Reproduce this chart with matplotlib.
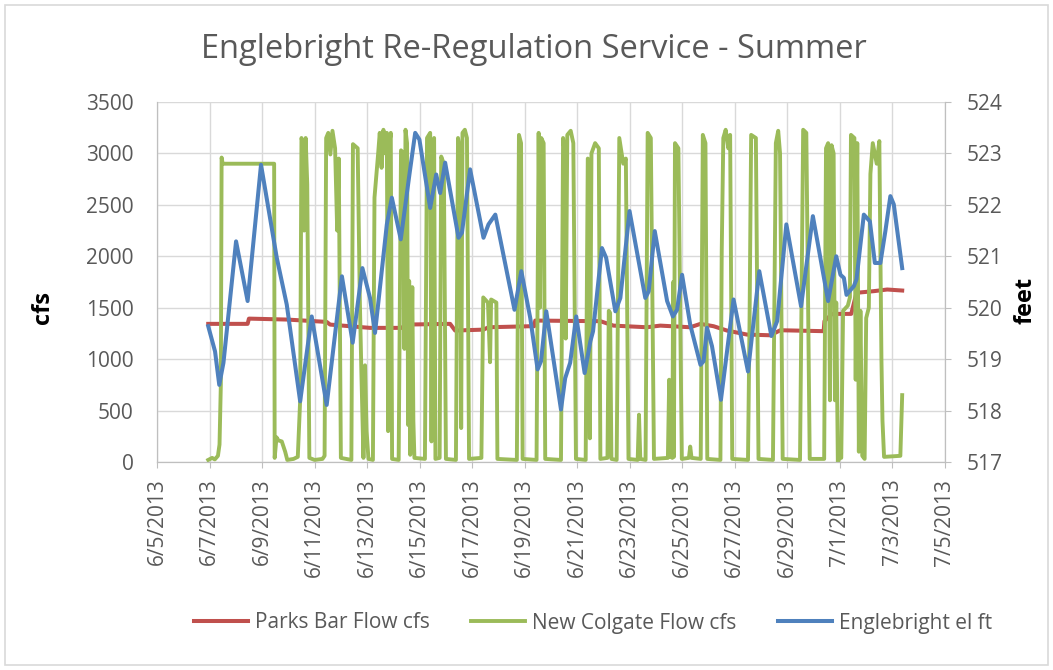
import matplotlib
matplotlib.use("Agg")
import matplotlib.pyplot as plt
import pandas as pd
from matplotlib.patches import Rectangle

plt.rcParams["font.family"] = ["Open Sans", "DejaVu Sans"]

# days after 6/5/2013 00:00
start = pd.Timestamp("2013-06-05")

parks_days = [1.95, 3.45, 3.50, 4.94, 6.46, 6.59, 8.11, 9.32, 9.45, 11.16, 11.35,
              12.43, 12.62, 14.21, 14.36, 14.40, 16.88, 17.38, 18.65, 19.16, 20.30,
              20.69, 21.19, 21.70, 22.46, 23.35, 23.73, 25.38, 25.41, 25.70, 26.43,
              26.63, 27.29, 27.80, 28.37]
parks_cfs = [1343, 1343, 1394, 1385, 1362, 1336, 1304, 1304, 1336, 1343, 1278,
             1287, 1310, 1320, 1320, 1375, 1369, 1326, 1310, 1326, 1310,
             1343, 1320, 1278, 1239, 1232, 1281, 1272, 1369, 1440, 1440,
             1645, 1661, 1677, 1667]

colgate_days = [1.95, 2.10, 2.20, 2.32, 2.38, 2.43, 2.46, 2.50, 4.46, 4.48, 4.55, 4.62,
                4.75, 4.88, 4.96, 5.20, 5.36,
                5.45, 5.50, 5.55, 5.60, 5.66, 5.72, 5.80, 6.00, 6.30,
                6.38, 6.44, 6.52, 6.60, 6.68, 6.78, 6.86, 6.92, 7.00, 7.20, 7.40,
                7.46, 7.64, 7.72, 7.78, 7.86, 7.92, 7.98, 8.05, 8.22,
                8.28, 8.42, 8.48, 8.55, 8.62, 8.70, 8.75, 8.80, 8.85, 8.90, 8.95, 9.20,
                9.29, 9.38, 9.42, 9.46, 9.52, 9.56, 9.60, 9.64, 9.72, 9.76, 9.80, 10.20,
                10.28, 10.40, 10.45, 10.50, 10.55, 10.60, 10.76,
                10.82, 10.92, 11.00, 11.38,
                11.46, 11.54, 11.58, 11.63, 11.72, 11.80, 11.88, 12.35,
                12.42, 12.60, 12.68, 12.72, 12.92, 12.96, 13.70,
                13.78, 13.86, 13.92, 14.45,
                14.53, 14.58, 14.63, 14.72, 14.78, 15.38,
                15.46, 15.52, 15.56, 15.62, 15.75, 15.85, 15.95, 16.32,
                16.40, 16.48, 16.54, 16.68, 16.82, 16.88, 17.15, 17.20, 17.25, 17.30, 17.50,
                17.60, 17.75, 17.85, 17.95, 18.30, 18.35, 18.40, 18.60,
                18.68, 18.80, 18.92, 19.45, 19.50, 19.55, 19.62, 19.65, 19.68,
                19.72, 19.85, 19.98, 20.25, 20.30, 20.35, 20.70,
                20.78, 20.88, 20.95, 21.45,
                21.50, 21.56, 21.65, 21.75, 21.82, 21.90, 22.50,
                22.56, 22.62, 22.80, 22.90, 23.45,
                23.56, 23.65, 23.72, 23.82, 24.48,
                24.60, 24.72, 24.85, 25.40,
                25.47, 25.55, 25.62, 25.68, 25.76, 25.81, 25.86, 25.92, 26.00, 26.05,
                26.12, 26.30, 26.38, 26.42, 26.55, 26.60, 26.66, 26.72, 26.78, 26.85,
                26.94, 27.00, 27.10, 27.16, 27.25, 27.40, 27.50, 27.58, 27.62, 27.68,
                28.30, 28.37]
colgate_cfs = [20, 40, 25, 60, 170, 750, 2960, 2900, 2900, 40, 240, 210,
               200, 100, 20, 30, 50,
               600, 3150, 3100, 2250, 3150, 2700, 40, 20, 30,
               60, 3150, 3200, 2990, 3220, 3050, 2250, 2950, 40, 30, 20,
               3090, 3050, 1600, 880, 40, 940, 300, 30, 20,
               2570, 3000, 3200, 2860, 3230, 3000, 3200, 300, 3100, 3200, 30, 20,
               3030, 3000, 1100, 3230, 3100, 360, 1760, 70, 1700, 400, 40, 30,
               3150, 3200, 200, 3100, 3150, 30, 40,
               2970, 2900, 30, 20,
               3150, 3000, 330, 3200, 3230, 3150, 30, 40,
               1600, 1550, 970, 1580, 1550, 30, 20,
               3180, 3100, 30, 20,
               3200, 1500, 3150, 3100, 30, 20,
               3150, 3000, 1200, 3180, 3220, 3100, 30, 20,
               2950, 230, 3000, 3100, 3050, 30, 40, 1470, 1450, 30, 20,
               3150, 2900, 2950, 30, 20, 460, 30, 20,
               3200, 3150, 30, 40, 800, 50, 40, 1750, 50,
               3100, 3050, 30, 40, 150, 40, 30,
               3180, 3100, 30, 20,
               2050, 3150, 3230, 3050, 3180, 30, 20,
               1400, 3180, 3150, 30, 20,
               3100, 3220, 3000, 30, 20,
               3230, 3200, 30, 30,
               3050, 3100, 600, 3080, 3000, 600, 1550, 0, 50, 40,
               1470, 1520, 1600, 3180, 3150, 800, 3100, 100, 1470, 60,
               30, 1400, 1500, 2800, 3100, 2900, 3120, 1000, 400, 50,
               60, 650]

engl_days = [1.95, 2.21, 2.37, 2.53, 3.01, 3.45, 3.96, 4.56, 4.94, 5.45, 5.89,
             6.46, 7.04, 7.45, 7.82, 8.11, 8.30, 8.75, 8.94, 9.28, 9.61, 9.83,
             9.99, 10.40, 10.63, 10.78, 10.97, 11.48, 11.61, 11.92, 12.43, 12.62,
             12.88, 13.61, 13.87, 14.21, 14.49, 14.62, 14.82, 15.38, 15.54, 15.73,
             15.96, 16.28, 16.50, 16.60, 16.94, 17.10, 17.45, 17.64, 17.99, 18.59,
             18.72, 18.95, 19.42, 19.64, 19.80, 19.99, 20.30, 20.69, 20.81, 20.94,
             21.13, 21.47, 21.95, 22.50, 22.93, 23.39, 23.61, 23.96, 24.52, 24.97,
             25.55, 25.86, 26.02, 26.15, 26.25, 26.53, 26.63, 26.91, 27.14, 27.33,
             27.54, 27.73, 27.92, 28.05, 28.37]
engl_ft = [519.64, 519.15, 518.50, 518.93, 521.29, 520.13, 522.78, 520.97, 520.06, 518.18, 519.83,
           518.11, 520.61, 519.32, 520.77, 520.19, 519.51, 521.62, 522.14, 521.33, 522.59, 523.40,
           523.27, 521.94, 522.59, 522.23, 522.82, 521.36, 521.46, 522.69, 521.36, 521.62,
           521.81, 519.96, 520.71, 519.80, 518.80, 518.96, 519.93, 518.02, 518.63, 518.93,
           519.83, 518.73, 519.35, 519.54, 521.16, 520.97, 519.93, 520.19, 521.88, 520.19,
           520.32, 521.49, 520.13, 519.83, 519.96, 520.64, 519.67, 518.89, 518.96, 519.61,
           519.25, 518.21, 520.16, 518.76, 520.71, 519.45, 519.74, 521.62, 520.03, 521.78,
           520.13, 521.00, 520.64, 520.58, 520.25, 520.42, 520.55, 521.81, 521.68, 520.87,
           520.87, 521.49, 522.17, 522.01, 520.77]

tick_dates = pd.date_range("2013-06-05", "2013-07-05", freq="2D")
tick_labels = [f"{d.month}/{d.day}/{d.year}" for d in tick_dates]

gray = "#595959"
fig = plt.figure(figsize=(10.53, 6.70), dpi=100)
fig.patches.append(Rectangle((0.005, 0.007), 0.99, 0.986, transform=fig.transFigure,
                             fill=False, edgecolor="#D9D9D9", linewidth=1.2))

ax = fig.add_axes([157 / 1053, 1 - 462 / 670, 788 / 1053, 360 / 670])
ax2 = ax.twinx()

to_dt = lambda days: start + pd.to_timedelta(days, unit="D")
l1, = ax.plot(to_dt(parks_days), parks_cfs, color="#C0504D", lw=2.9, label="Parks Bar Flow cfs")
l2, = ax.plot(to_dt(colgate_days), colgate_cfs, color="#9BBB59", lw=2.8, label="New Colgate Flow cfs")
l3, = ax2.plot(to_dt(engl_days), engl_ft, color="#4F81BD", lw=2.9, label="Englebright el ft")

ax.set_xlim(tick_dates[0], tick_dates[-1])
ax.set_ylim(0, 3500)
ax2.set_ylim(517, 524)
ax.set_yticks(range(0, 3501, 500))
ax2.set_yticks(range(517, 525))
ax.set_xticks(tick_dates)
ax.set_xticklabels(tick_labels, rotation=90)

ax.grid(True, color="#D9D9D9", lw=1.0)
ax.set_axisbelow(True)
for a in (ax, ax2):
    for s in a.spines.values():
        s.set_color("#BFBFBF")
    a.spines["top"].set_visible(False)
ax.tick_params(axis="y", length=0, pad=17, labelsize=15, labelcolor=gray)
ax.tick_params(axis="x", length=4, color="#BFBFBF", pad=8, labelsize=15, labelcolor=gray)
ax2.tick_params(axis="y", length=4.3, color="#BFBFBF", pad=11.5, labelsize=15, labelcolor=gray)

ax.set_ylabel("cfs", fontsize=17, fontweight="bold")
ax.yaxis.set_label_coords(-0.1294, 0.43)
ax2.set_ylabel("feet", fontsize=17, fontweight="bold")
ax2.yaxis.set_label_coords(1.0863, 0.45)

fig.text(0.5067, 1 - 50 / 670, "Englebright Re-Regulation Service - Summer",
         ha="center", va="center", fontsize=23.5, color=gray)

fig.legend([l1, l2, l3], [l1.get_label(), l2.get_label(), l3.get_label()],
           loc="center", bbox_to_anchor=(0.563, 1 - 623 / 670), ncol=3, frameon=False,
           fontsize=15, labelcolor=gray, handlelength=2.6, handletextpad=0.32,
           columnspacing=2.0)

fig.savefig("out.png", dpi=100)
